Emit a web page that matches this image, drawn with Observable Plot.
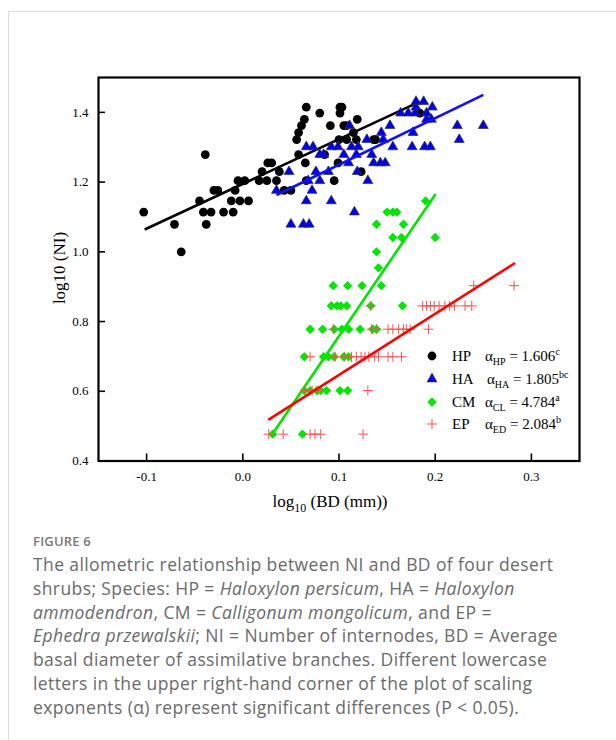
<!DOCTYPE html>
<html><head><meta charset="utf-8">
<script src="https://cdn.jsdelivr.net/npm/d3@7"></script>
<script src="https://cdn.jsdelivr.net/npm/@observablehq/plot@0.6"></script>
<style>
body{margin:0;background:#fff;width:616px;height:740px;overflow:hidden;position:relative}
#card{position:absolute;left:8px;top:11px;width:700px;height:800px;border-left:1px solid #dcdcdc;border-top:1px solid #dcdcdc}
#chart{position:absolute;left:0;top:0}
.lab{position:absolute;font-family:"Liberation Serif",serif;color:#000;white-space:nowrap}
.lab sub,.lab sup{font-size:10px;line-height:0}
#cap{position:absolute;left:33px;top:530px;font-family:"Open Sans",sans-serif;color:#6a6a6a;white-space:nowrap}
#fig{font-size:13px;font-weight:600;color:#787878;letter-spacing:0.2px;line-height:22px}
#txt{font-size:17.5px;letter-spacing:0.4px;line-height:23.8px;margin-top:1px}
</style></head>
<body>
<div id="card"></div>
<div id="chart"></div>
<div id="cap"><div id="fig">FIGURE 6</div>
<div id="txt">The allometric relationship between NI and BD of four desert<br>shrubs; Species: HP = <i>Haloxylon persicum</i>, HA = <i>Haloxylon</i><br><i>ammodendron</i>, CM = <i>Calligonum mongolicum</i>, and EP =<br><i>Ephedra przewalskii</i>; NI = Number of internodes, BD = Average<br>basal diameter of assimilative branches. Different lowercase<br>letters in the upper right-hand corner of the plot of scaling<br>exponents (α) represent significant differences (P &lt; 0.05).</div></div>
<script>
// ---- data (x = log10 BD, y = log10 NI) ----
const hp = [
 [0.066,1.415],[0.101,1.415],[0.103,1.415],
 [0.080,1.398],[0.101,1.398],[0.184,1.398],
 [0.064,1.380],[0.119,1.380],
 [0.061,1.362],[0.091,1.362],[0.105,1.362],[0.108,1.362],
 [0.058,1.342],[0.115,1.342],
 [0.056,1.322],[0.100,1.322],[0.108,1.322],[0.118,1.322],[0.136,1.322],[0.138,1.322],
 [-0.039,1.279],[0.058,1.279],[0.085,1.279],
 [0.026,1.255],[0.030,1.255],[0.065,1.255],[0.099,1.255],
 [0.020,1.230],[0.038,1.230],[0.123,1.230],
 [-0.005,1.204],[0.002,1.204],[0.017,1.204],[0.025,1.204],[0.035,1.204],[0.066,1.204],[0.095,1.204],
 [-0.030,1.176],[-0.026,1.176],[-0.008,1.176],[0.043,1.176],[0.050,1.176],
 [-0.045,1.146],[-0.012,1.146],[-0.003,1.146],[0.006,1.146],
 [-0.103,1.114],[-0.041,1.114],[-0.033,1.114],[-0.020,1.114],[-0.010,1.114],
 [-0.071,1.079],[-0.038,1.079],
 [-0.064,1.000]
];
const ha = [
 [0.050,1.079],[0.063,1.079],[0.069,1.079],
 [0.116,1.114],
 [0.066,1.146],[0.092,1.146],
 [0.035,1.176],[0.072,1.176],
 [0.068,1.204],[0.080,1.204],[0.130,1.204],
 [0.048,1.230],[0.076,1.230],[0.089,1.230],[0.119,1.230],
 [0.110,1.255],[0.136,1.255],[0.143,1.255],[0.148,1.255],
 [0.080,1.279],[0.084,1.279],[0.105,1.279],[0.118,1.279],[0.134,1.279],
 [0.066,1.301],[0.073,1.301],[0.092,1.301],[0.099,1.301],[0.113,1.301],[0.120,1.301],[0.156,1.301],[0.176,1.301],[0.189,1.301],[0.195,1.301],
 [0.129,1.322],[0.146,1.322],[0.225,1.322],
 [0.144,1.342],[0.177,1.342],
 [0.111,1.362],[0.153,1.362],[0.223,1.362],[0.250,1.362],
 [0.191,1.380],[0.196,1.380],
 [0.164,1.398],[0.172,1.398],[0.179,1.398],[0.191,1.398],
 [0.180,1.415],[0.197,1.415],
 [0.180,1.431],[0.188,1.431]
];
const cm = [
 [0.190,1.146],
 [0.150,1.114],[0.156,1.114],[0.160,1.114],
 [0.139,1.079],[0.167,1.079],
 [0.156,1.041],[0.165,1.041],[0.200,1.041],
 [0.139,1.000],
 [0.141,0.954],
 [0.094,0.903],[0.109,0.903],[0.124,0.903],[0.144,0.903],
 [0.092,0.845],[0.098,0.845],[0.102,0.845],[0.108,0.845],[0.133,0.845],[0.166,0.845],
 [0.070,0.778],[0.083,0.778],[0.095,0.778],[0.103,0.778],[0.110,0.778],[0.122,0.778],[0.135,0.778],[0.139,0.778],
 [0.064,0.699],[0.084,0.699],[0.089,0.699],[0.095,0.699],[0.105,0.699],[0.110,0.699],
 [0.064,0.602],[0.070,0.602],[0.077,0.602],[0.081,0.602],[0.087,0.602],[0.101,0.602],[0.109,0.602],
 [0.031,0.477],[0.062,0.477]
];
const ep = [
 [0.240,0.903],[0.282,0.903],
 [0.133,0.845],[0.187,0.845],[0.191,0.845],[0.195,0.845],[0.199,0.845],[0.204,0.845],[0.210,0.845],[0.215,0.845],[0.220,0.845],[0.231,0.845],[0.238,0.845],
 [0.094,0.778],[0.134,0.778],[0.139,0.778],[0.151,0.778],[0.156,0.778],[0.162,0.778],[0.167,0.778],[0.170,0.778],[0.174,0.778],[0.193,0.778],
 [0.070,0.699],[0.096,0.699],[0.106,0.699],[0.113,0.699],[0.118,0.699],[0.123,0.699],[0.127,0.699],[0.131,0.699],[0.137,0.699],[0.141,0.699],[0.151,0.699],[0.156,0.699],[0.165,0.699],
 [0.065,0.602],[0.072,0.602],[0.078,0.602],[0.130,0.602],
 [0.027,0.477],[0.042,0.477],[0.070,0.477],[0.075,0.477],[0.081,0.477],[0.125,0.477]
];
// fitted lines (endpoints)
const hpFit = [[-0.102,1.064],[0.184,1.431]];
const haFit = [[0.035,1.163],[0.250,1.450]];
const cmFit = [[0.031,0.478],[0.2005,1.166]];
const epFit = [[0.0265,0.518],[0.283,0.968]];
const xTicks = [-0.1,0.0,0.1,0.2,0.3];
const yTicks = [0.4,0.6,0.8,1.0,1.2,1.4];
const legendNames = ["HP","HA","CM","EP"];
const legendSubs = ["HP","HA","CL","ED"];
const legendVals = ["1.606","1.805","4.784","2.084"];
const legendSups = ["c","bc","a","b"];

const C = {hp:"#000000", ha:"#0000ee", cm:"#00e600", ep:"#ff5050", epLine:"#ff0000"};
const plusSym = {draw(ctx,size){const r=Math.sqrt(size/Math.PI);ctx.moveTo(-r,0);ctx.lineTo(r,0);ctx.moveTo(0,-r);ctx.lineTo(0,r);}};
const X = d=>d[0], Y = d=>d[1];
const W=616,H=520,ML=98,MR=37,MT=77,MB=59.5;
const pw=W-ML-MR, ph=H-MT-MB;
const fmt = d=>d.toFixed(1);

const plot = Plot.plot({
  width:W,height:H,marginLeft:ML,marginRight:MR,marginTop:MT,marginBottom:MB,
  style:{fontFamily:"Liberation Serif",fontSize:"13px",color:"#000",background:"transparent",overflow:"visible"},
  x:{domain:[-0.15,0.35]}, y:{domain:[0.4,1.5]},
  marks:[
    Plot.dot(hp,{x:X,y:Y,r:4.4,fill:C.hp,symbol:"circle"}),
    Plot.line(hpFit,{x:X,y:Y,stroke:C.hp,strokeWidth:2.6,strokeLinecap:"butt"}),
    Plot.dot(ha,{x:X,y:Y,r:3.7,symbol:"triangle",fill:C.ha,stroke:"#333",strokeWidth:0.7}),
    Plot.line(haFit,{x:X,y:Y,stroke:"#1010ff",strokeWidth:2.6,strokeLinecap:"butt"}),
    Plot.dot(cm,{x:X,y:Y,r:4.2,symbol:"diamond2",fill:C.cm}),
    Plot.line(cmFit,{x:X,y:Y,stroke:C.cm,strokeWidth:2.6,strokeLinecap:"butt"}),
    Plot.dot(ep,{x:X,y:Y,r:5,symbol:plusSym,stroke:C.ep,fill:"none",strokeWidth:1}),
    Plot.line(epFit,{x:X,y:Y,stroke:C.epLine,strokeWidth:2.6,strokeLinecap:"butt"}),
    Plot.tickX(xTicks,{x:d=>d,insetTop:ph-7,stroke:"#000",strokeWidth:1.6}),
    Plot.tickY(yTicks,{y:d=>d,insetRight:pw-7,stroke:"#000",strokeWidth:1.6}),
    Plot.axisX({ticks:xTicks,tickSize:0,tickPadding:11,tickFormat:fmt,label:null}),
    Plot.axisY({ticks:yTicks,tickSize:0,tickPadding:10,tickFormat:fmt,label:null}),
    Plot.frame({stroke:"#000",strokeWidth:2.2})
  ]
});
const chart = document.getElementById("chart");
chart.appendChild(plot);

function addLab(html, css){const d=document.createElement("div");d.className="lab";d.innerHTML=html;Object.assign(d.style,css);document.body.appendChild(d);return d;}
addLab("log<sub style='font-size:12px;vertical-align:-5px;line-height:0'>10</sub> (BD (mm))",{left:"330px",top:"502px",fontSize:"17px",transform:"translate(-50%,-50%)"});
addLab("log10 (NI)",{left:"60px",top:"268px",fontSize:"17px",transform:"translate(-50%,-50%) rotate(-90deg)"});

// legend
const rowY=[356,378.5,401.5,424];
const symbols=[d3.symbolCircle,d3.symbolTriangle,d3.symbolDiamond2,null];
const fills=[C.hp,C.ha,C.cm,"none"];
const sizes=[Math.PI*4.4*4.4,Math.PI*3.7*3.7,Math.PI*4.2*4.2,0];
legendNames.forEach((n,i)=>{
  const s=document.createElementNS("http://www.w3.org/2000/svg","svg");
  s.setAttribute("width",16);s.setAttribute("height",16);
  Object.assign(s.style,{position:"absolute",left:(432-8)+"px",top:(rowY[i]-8)+"px"});
  const p=document.createElementNS("http://www.w3.org/2000/svg","path");
  if(symbols[i]){p.setAttribute("d",d3.symbol(symbols[i],sizes[i])());p.setAttribute("fill",fills[i]);
    if(i===1){p.setAttribute("stroke","#333");p.setAttribute("stroke-width",0.7);}}
  else{p.setAttribute("d","M-5,0H5M0,-5V5");p.setAttribute("stroke",C.ep);p.setAttribute("fill","none");}
  p.setAttribute("transform","translate(8,8)");
  s.appendChild(p);document.body.appendChild(s);
  addLab(n,{left:"452px",top:(rowY[i]-10)+"px",fontSize:"15px",lineHeight:"20px"});
  addLab(`α<sub style="vertical-align:-4px">${legendSubs[i]}</sub> = ${legendVals[i]}<sup style="vertical-align:6px">${legendSups[i]}</sup>`,
    {left:(i===1?487:485)+"px",top:(rowY[i]-10)+"px",fontSize:"15px",lineHeight:"20px"});
});
</script>
</body></html>
